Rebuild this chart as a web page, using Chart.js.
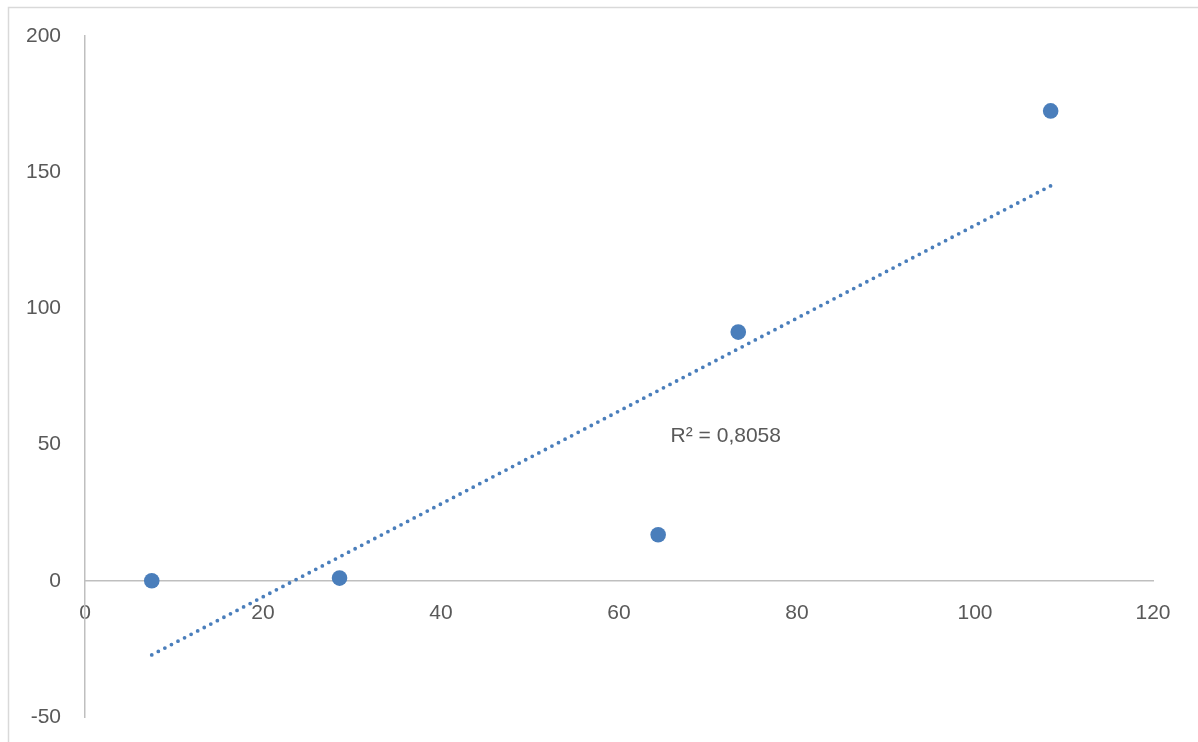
<!DOCTYPE html>
<html>
<head>
<meta charset="utf-8">
<script src="https://cdn.jsdelivr.net/npm/chart.js@4/dist/chart.umd.min.js"></script>
<style>
  body { margin: 0; background: #fff; }
</style>
</head>
<body>
<canvas id="myChart" width="1198" height="742"></canvas>
<script>
// scatter points
const xValues = [7.5, 28.6, 64.4, 73.4, 108.5];
const yValues = [0, 1.0, 16.9, 91.3, 172.5];

// linear trendline ends (as drawn)
const trendX = [7.5, 108.5];
const trendY = [-27.2, 145.0];
const r2Label = "R² = 0,8058";
const r2Pos = [65.8, 53.2];

const xTicks = [0, 20, 40, 60, 80, 100, 120];
const yTicks = [-50, 0, 50, 100, 150, 200];

const BLUE = 'rgb(74, 126, 187)';
const AXIS = '#bfbfbf';
const TEXT = '#595959';
const FONT = "'Liberation Sans', Arial, sans-serif";

let points = [];
for (let i = 0; i < xValues.length; i++) {
  points.push({x: xValues[i], y: yValues[i]});
}
let trend = [];
for (let i = 0; i < trendX.length; i++) {
  trend.push({x: trendX[i], y: trendY[i]});
}

// outer frame + R² text
const extras = {
  id: 'extras',
  beforeDraw(chart) {
    const ctx = chart.ctx;
    ctx.save();
    ctx.strokeStyle = '#d9d9d9';
    ctx.lineWidth = 1.5;
    ctx.strokeRect(8.5, 7.5, 1400, 900);
    ctx.restore();
  },
  afterDraw(chart) {
    const ctx = chart.ctx;
    const px = chart.scales.x.getPixelForValue(r2Pos[0]);
    const py = chart.scales.y.getPixelForValue(r2Pos[1]);
    ctx.save();
    ctx.fillStyle = TEXT;
    ctx.font = "21px " + FONT;
    ctx.textAlign = 'left';
    ctx.textBaseline = 'middle';
    ctx.fillText(r2Label, px, py);
    ctx.restore();
  }
};

const config = {
  type: 'scatter',
  data: {
    datasets: [
      {
        label: 'points',
        data: points,
        backgroundColor: BLUE,
        borderColor: BLUE,
        pointRadius: 7.8,
        pointBorderWidth: 0,
        order: 1
      },
      {
        label: 'trend',
        data: trend,
        showLine: true,
        borderColor: BLUE,
        borderWidth: 3.8,
        borderDash: [0, 7.4],
        borderCapStyle: 'round',
        pointRadius: 0,
        fill: false,
        order: 2
      }
    ]
  },
  options: {
    responsive: false,
    animation: false,
    events: [],
    layout: {
      padding: {left: 0, right: 45, top: 36, bottom: 25}
    },
    plugins: {
      legend: {display: false},
      tooltip: {enabled: false}
    },
    scales: {
      x: {
        type: 'linear',
        min: 0,
        max: 120,
        position: {y: 0},
        grid: {display: false, drawTicks: false},
        border: {display: true, color: AXIS, width: 1.5},
        afterBuildTicks(scale) {
          scale.ticks = xTicks.map(v => ({value: v}));
        },
        afterFit(scale) {
          scale.height = 0;
          scale.paddingLeft = 0;
          scale.paddingRight = 0;
        },
        ticks: {
          color: TEXT,
          font: {family: FONT, size: 21},
          padding: 20,
          maxRotation: 0
        }
      },
      y: {
        type: 'linear',
        min: -50,
        max: 200,
        position: 'left',
        grid: {display: false, drawTicks: false},
        border: {display: true, color: AXIS, width: 1.5},
        afterBuildTicks(scale) {
          scale.ticks = yTicks.map(v => ({value: v}));
        },
        afterFit(scale) {
          scale.width = 85;
          scale.paddingTop = 0;
          scale.paddingBottom = 0;
        },
        ticks: {
          color: TEXT,
          font: {family: FONT, size: 21},
          padding: 24
        }
      }
    }
  },
  plugins: [extras]
};

new Chart(document.getElementById('myChart'), config);
</script>
</body>
</html>
